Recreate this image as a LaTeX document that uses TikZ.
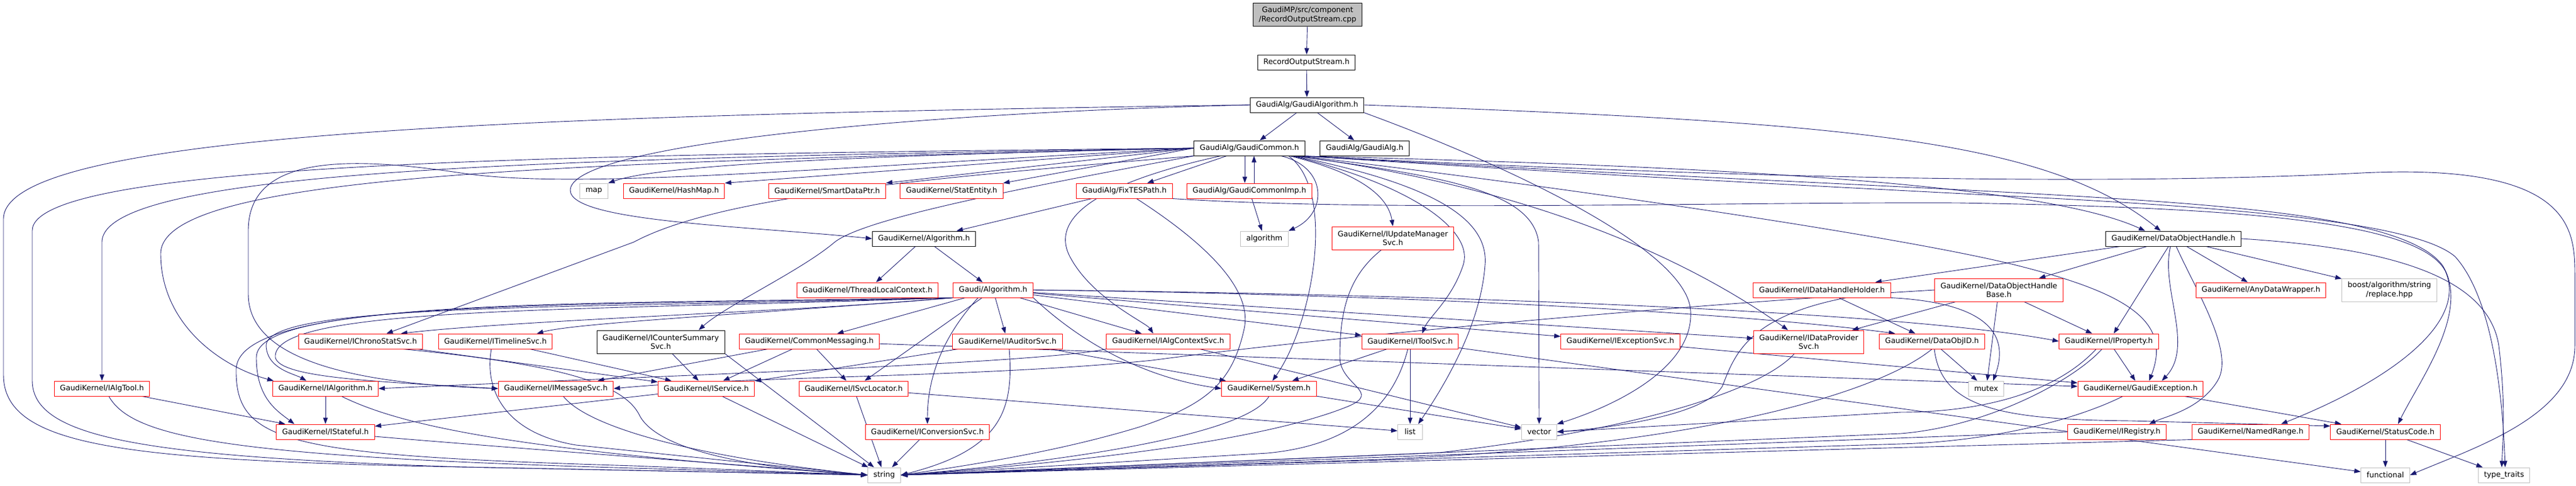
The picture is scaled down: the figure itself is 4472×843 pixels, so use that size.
\documentclass[tikz,border=0pt]{standalone}
\usepackage{fontspec}
\setmainfont{DejaVu Sans}
\usetikzlibrary{arrows.meta,backgrounds}
\definecolor{depblue}{HTML}{191970}
\definecolor{boxgrey}{HTML}{BFBFBF}
\definecolor{truncred}{HTML}{FF0000}
\tikzset{
  file/.style={draw=black, fill=white, line width=1pt, font=\fontsize{13}{15.5}\selectfont,
    minimum height=26pt, inner xsep=10pt, inner ysep=2pt, align=center},
  redfile/.style={file, draw=truncred},
  sysfile/.style={file, draw=boxgrey, minimum width=43pt},
  srcfile/.style={file, fill=boxgrey},
  twoline/.style={minimum height=40pt},
  dep/.style={draw=depblue, line width=0.9pt, -{Triangle[length=11pt,width=8pt]}}
}

\begin{document}
\begin{tikzpicture}[x=1pt,y=-1pt]
\useasboundingbox (0,0) rectangle (4472,843);

% top chain
\node[srcfile,twoline] (cpp) at (2270,26) {GaudiMP/src/component\\/RecordOutputStream.cpp};
\node[file] (ros) at (2268,108) {RecordOutputStream.h};
\node[file] (galgo) at (2269,182) {GaudiAlg/GaudiAlgorithm.h};
\node[file] (gcommon) at (2169,257) {GaudiAlg/GaudiCommon.h};
\node[file] (galg) at (2369,257) {GaudiAlg/GaudiAlg.h};

% row 1
\node[sysfile] (map) at (1031,331) {map};
\node[redfile] (hashmap) at (1170,331) {GaudiKernel/HashMap.h};
\node[redfile] (smartptr) at (1436,331) {GaudiKernel/SmartDataPtr.h};
\node[redfile] (statentity) at (1652,331) {GaudiKernel/StatEntity.h};
\node[redfile] (fixtes) at (1952,331) {GaudiAlg/FixTESPath.h};
\node[redfile] (gcimp) at (2169,331) {GaudiAlg/GaudiCommonImp.h};

% row 2
\node[redfile,twoline] (iupdmgr) at (2418,413) {GaudiKernel/IUpdateManager\\Svc.h};
\node[file] (gkalg) at (1604,414) {GaudiKernel/Algorithm.h};
\node[sysfile] (algorithm) at (2195,414) {algorithm};
\node[file] (dohandle) at (3773,414) {GaudiKernel/DataObjectHandle.h};

% row 3
\node[redfile] (tlctx) at (1506,503) {GaudiKernel/ThreadLocalContext.h};
\node[redfile] (gaudialg) at (1724,503) {Gaudi/Algorithm.h};
\node[redfile] (idhholder) at (3163,503) {GaudiKernel/IDataHandleHolder.h};
\node[redfile,twoline] (dohbase) at (3470,503) {GaudiKernel/DataObjectHandle\\Base.h};
\node[redfile] (anywrap) at (3925,503) {GaudiKernel/AnyDataWrapper.h};
\node[sysfile,twoline] (boostrep) at (4148,503) {boost/algorithm/string\\/replace.hpp};

% row 4
\node[redfile] (ichrono) at (626,592) {GaudiKernel/IChronoStatSvc.h};
\node[redfile] (itimeline) at (860,592) {GaudiKernel/ITimelineSvc.h};
\node[file,twoline] (icounter) at (1147,593) {GaudiKernel/ICounterSummary\\Svc.h};
\node[redfile] (commsg) at (1405,592) {GaudiKernel/CommonMessaging.h};
\node[redfile] (iauditor) at (1749,592) {GaudiKernel/IAuditorSvc.h};
\node[redfile] (ialgctx) at (2028,592) {GaudiKernel/IAlgContextSvc.h};
\node[redfile] (itoolsvc) at (2448,592) {GaudiKernel/IToolSvc.h};
\node[redfile] (iexcsvc) at (2813,592) {GaudiKernel/IExceptionSvc.h};
\node[redfile,twoline] (idpsvc) at (3140,593) {GaudiKernel/IDataProvider\\Svc.h};
\node[redfile] (dataobjid) at (3354,592) {GaudiKernel/DataObjID.h};
\node[redfile] (iproperty) at (3661,592) {GaudiKernel/IProperty.h};

% row 5
\node[redfile] (ialgtool) at (177,674) {GaudiKernel/IAlgTool.h};
\node[redfile] (ialgorithm) at (565,674) {GaudiKernel/IAlgorithm.h};
\node[redfile] (imsgsvc) at (965,674) {GaudiKernel/IMessageSvc.h};
\node[redfile] (iservice) at (1226,674) {GaudiKernel/IService.h};
\node[redfile] (isvcloc) at (1482,674) {GaudiKernel/ISvcLocator.h};
\node[redfile] (isystem) at (2203,674) {GaudiKernel/System.h};
\node[sysfile] (mutex) at (3448,674) {mutex};
\node[redfile] (gexc) at (3716,674) {GaudiKernel/GaudiException.h};

% row 6
\node[redfile] (istateful) at (565,749) {GaudiKernel/IStateful.h};
\node[redfile] (iconvsvc) at (1610,749) {GaudiKernel/IConversionSvc.h};
\node[sysfile] (list) at (2448,749) {list};
\node[sysfile] (vector) at (2672,749) {vector};
\node[redfile] (iregistry) at (3675,749) {GaudiKernel/IRegistry.h};
\node[redfile] (namedrange) at (3907,749) {GaudiKernel/NamedRange.h};
\node[redfile] (statuscode) at (4141,749) {GaudiKernel/StatusCode.h};

% bottom row
\node[sysfile] (string) at (1535,824) {string};
\node[sysfile] (functional) at (4141,824) {functional};
\node[sysfile] (typetraits) at (4347,824) {type\_traits};

\begin{scope}[on background layer]
\fill[white] (0,0) rectangle (4472,843);

% plain includes
\foreach \a/\b in {cpp/ros, ros/galgo, galgo/gcommon, galgo/galg, gcommon/fixtes, gcimp/algorithm,
  fixtes/gkalg, gkalg/tlctx, gkalg/gaudialg,
  gaudialg/commsg, gaudialg/iauditor, gaudialg/ialgctx, gaudialg/isvcloc, gaudialg/itoolsvc,
  gaudialg/iexcsvc, gaudialg/idpsvc,
  dohandle/idhholder, dohandle/dohbase, dohandle/anywrap, dohandle/boostrep, dohandle/iproperty,
  idhholder/dataobjid, dohbase/idpsvc, dohbase/iproperty, dohbase/mutex, dataobjid/mutex,
  iproperty/gexc, gexc/statuscode, statuscode/functional, statuscode/typetraits,
  ialgtool/istateful, ialgorithm/istateful, iservice/istateful,
  icounter/iservice, commsg/iservice, commsg/isvcloc, commsg/imsgsvc, iauditor/iservice, iauditor/isystem,
  ichrono/iservice, itimeline/iservice,
  itoolsvc/isystem, itoolsvc/list, isvcloc/list, isystem/vector, ialgctx/vector,
  iexcsvc/gexc, commsg/gexc, itoolsvc/functional,
  isvcloc/string, iconvsvc/string, iservice/string}
  \draw[dep] (\a) -- (\b);

% GaudiAlgorithm.h
\draw[dep] (galgo.west) .. controls (900,200) and (6,230) .. (6,380) -- (6,650) .. controls (6,770) and (200,795) .. (700,808) -- (string.west);
\draw[dep] (galgo.west) .. controls (1600,195) and (990,250) .. (990,330) .. controls (990,385) and (1300,392) .. (gkalg.west);
\draw[dep] (galgo.east) .. controls (3200,212) and (3550,240) .. ([xshift=-22pt]dohandle.north);
\draw[dep] (galgo.south east) .. controls (2600,280) and (2930,430) .. (2935,540) .. controls (2940,640) and (2800,705) .. (vector.north east);

% GaudiCommon.h, to the left
\draw[dep] (gcommon.west) .. controls (1500,270) and (1150,285) .. (map.north east);
\draw[dep] (gcommon.west) -- (hashmap.north east);
\draw[dep] (gcommon.west) -- (smartptr.north east);
\draw[dep] (gcommon.west) -- (statentity.north east);
\draw[dep] (gcommon.west) .. controls (1000,268) and (56,280) .. (56,400) -- (56,660) .. controls (56,760) and (250,792) .. (800,810) -- (string.west);
\draw[dep] (gcommon.west) .. controls (1000,275) and (177,290) .. (177,420) -- (ialgtool.north);
\draw[dep] (gcommon.west) .. controls (1000,282) and (279,300) .. (279,440) .. controls (279,560) and (380,635) .. ([xshift=-90pt]ialgorithm.north);
\draw[dep] (gcommon.west) .. controls (1400,292) and (1000,330) .. (800,300) .. controls (600,270) and (431,270) .. (431,400) -- (431,510) .. controls (431,620) and (600,665) .. (imsgsvc.west);
\draw[dep] (gcommon.south west) .. controls (1600,310) and (1250,340) .. (1100,420) -- ([xshift=45pt]ichrono.north);
\draw[dep] (gcommon.south west) .. controls (1750,330) and (1500,380) .. (1449,420) .. controls (1390,470) and (1260,530) .. ([xshift=66pt]icounter.north);
\draw[dep] ([xshift=-50pt]gcommon.south) .. controls (1850,330) and (1830,400) .. (1860,450) .. controls (1900,520) and (1990,560) .. ([xshift=-26pt]ialgctx.north);

% GaudiCommon.h, down and to the right
\draw[dep] ([xshift=-8pt]gcommon.south) -- ([xshift=-8pt]gcimp.north);
\draw[dep] ([xshift=8pt]gcimp.north) -- ([xshift=8pt]gcommon.south);
\draw[dep] ([xshift=70pt]gcommon.south) .. controls (2360,300) and (2410,340) .. (iupdmgr.north);
\draw[dep] ([xshift=55pt]gcommon.south) .. controls (2305,290) and (2305,370) .. (algorithm.north east);
\draw[dep] ([xshift=68pt]gcommon.south) .. controls (2320,330) and (2280,560) .. ([xshift=6pt]isystem.north);
\draw[dep] ([xshift=74pt]gcommon.south) .. controls (2450,320) and (2560,400) .. (2540,460) .. controls (2520,520) and (2480,550) .. ([xshift=21pt]itoolsvc.north);
\draw[dep] ([xshift=76pt]gcommon.south) .. controls (2490,320) and (2585,380) .. (2578,460) .. controls (2570,570) and (2500,680) .. ([xshift=14pt]list.north);
\draw[dep] ([xshift=78pt]gcommon.south) .. controls (2500,305) and (2660,330) .. (2671,420) -- (vector.north);
\draw[dep] ([xshift=80pt]gcommon.south) .. controls (2550,310) and (2860,400) .. ([xshift=-36pt]idpsvc.north);
\draw[dep] ([xshift=84pt]gcommon.south) .. controls (3000,288) and (3550,320) .. ([xshift=-49pt]dohandle.north);
\draw[dep] ([xshift=86pt]gcommon.south) .. controls (2700,322) and (3300,410) .. (3500,460) .. controls (3700,510) and (3770,560) .. ([xshift=15pt]gexc.north);
\draw[dep] ([xshift=88pt]gcommon.south) .. controls (2700,292) and (3500,330) .. (4100,300) .. controls (4470,282) and (4470,400) .. (4470,480) -- (4470,600) .. controls (4470,720) and (4300,775) .. (functional.east);
\draw[dep] ([xshift=90pt]gcommon.south) .. controls (2800,302) and (3300,322) .. (3600,340) .. controls (3900,358) and (4180,380) .. (4240,460) .. controls (4290,540) and (4200,660) .. ([xshift=22pt]statuscode.north);
\draw[dep] ([xshift=93pt]gcommon.south) .. controls (2800,306) and (3300,330) .. (3600,346) .. controls (3950,366) and (4200,392) .. (4262,445) .. controls (4330,520) and (4345,700) .. ([xshift=2pt]typetraits.north);

% FixTESPath.h
\draw[dep] (fixtes.south east) .. controls (2400,368) and (3000,350) .. (3400,352) .. controls (3900,360) and (4200,385) .. (4245,470) .. controls (4285,560) and (4150,660) .. ([xshift=53pt]namedrange.north);
\draw[dep] ([xshift=21pt]fixtes.south) .. controls (2090,420) and (2175,500) .. (2160,570) .. controls (2140,660) and (2100,700) .. (1980,740) .. controls (1850,780) and (1700,805) .. (string.east);

% Gaudi/Algorithm.h
\draw[dep] (gaudialg.south west) .. controls (1400,540) and (900,555) .. ([xshift=70pt]ichrono.north);
\draw[dep] (gaudialg.south west) .. controls (1300,545) and (1000,560) .. ([xshift=72pt]itimeline.north);
\draw[dep] (gaudialg.south west) .. controls (1000,540) and (470,530) .. (478,620) .. controls (485,655) and (650,662) .. (imsgsvc.west);
\draw[dep] (gaudialg.south west) .. controls (1000,535) and (460,525) .. (462,600) .. controls (464,640) and (510,648) .. ([xshift=-33pt]ialgorithm.north);
\draw[dep] (gaudialg.south west) .. controls (1000,530) and (445,520) .. (445,620) .. controls (445,690) and (480,712) .. ([xshift=-54pt]istateful.north);
\draw[dep] (gaudialg.south west) .. controls (1000,528) and (415,515) .. (410,640) .. controls (408,770) and (500,790) .. (1100,808) -- (string.west);
\draw[dep] (gaudialg.south east) .. controls (1840,560) and (1950,650) .. (isystem.west);
\draw[dep] ([xshift=-26pt]gaudialg.south) .. controls (1640,580) and (1610,650) .. (iconvsvc.north);
\draw[dep] (gaudialg.east) .. controls (2400,510) and (3000,540) .. ([xshift=-64pt]dataobjid.north);
\draw[dep] (gaudialg.east) .. controls (2500,510) and (3300,540) .. (iproperty.west);

% DataObjectHandle.h
\draw[dep] ([xshift=-5pt]dohandle.south) .. controls (3750,500) and (3810,600) .. ([xshift=37pt]gexc.north);
\draw[dep] ([xshift=5pt]dohandle.south) .. controls (3810,500) and (3880,610) .. (3850,660) .. controls (3820,710) and (3760,722) .. ([xshift=56pt]iregistry.north);
\draw[dep] (dohandle.east) .. controls (4150,430) and (4320,480) .. (4338,600) .. controls (4350,700) and (4345,760) .. ([xshift=-4pt]typetraits.north);

% handles, ids and properties
\draw[dep] ([xshift=42pt]idhholder.south) .. controls (3030,550) and (3010,620) .. (2990,670) .. controls (2960,720) and (2800,742) .. (vector.east);
\draw[dep] (idhholder.south east) .. controls (3450,525) and (3490,580) .. ([xshift=12pt]mutex.north);
\draw[dep] ([xshift=4pt]dataobjid.south) .. controls (3370,710) and (3480,728) .. (3700,730) -- ([yshift=10pt]statuscode.west);
\draw[dep] (dataobjid.south) .. controls (3250,690) and (2900,785) .. (2300,800) -- (string.east);
\draw[dep] ([xshift=-25pt]idpsvc.south) .. controls (3060,675) and (2850,745) .. (2500,785) -- (string.east);
\draw[dep] ([xshift=-22pt]iproperty.south) .. controls (3560,690) and (3420,715) .. (3300,715) -- (vector.east);
\draw[dep] ([xshift=-12pt]iproperty.south) .. controls (3600,660) and (3450,740) .. (3300,752) -- (string.east);
\draw[dep] ([xshift=-31pt]gexc.south) .. controls (3600,730) and (3450,766) .. (3300,770) -- (string.east);
\draw[dep] (iregistry.west) -- (string.east);
\draw[dep] (namedrange.south west) -- (string.east);
\draw[dep] (dohbase.west) .. controls (2900,530) and (2300,585) .. (2000,625) .. controls (1700,655) and (1300,652) .. (imsgsvc.east);

% services down to string
\draw[dep] ([xshift=-4pt]itoolsvc.south) .. controls (2420,700) and (2350,772) .. (2200,786) -- (string.east);
\draw[dep] (isystem.south) .. controls (2160,760) and (1800,805) .. (string.east);
\draw[dep] ([xshift=-20pt]iupdmgr.south) .. controls (2340,480) and (2326,540) .. (2326,620) .. controls (2326,668) and (2400,680) .. (2340,705) .. controls (2200,762) and (1900,800) .. (string.east);
\draw[dep] ([xshift=3pt]iauditor.south) .. controls (1760,710) and (1740,780) .. (string.east);
\draw[dep] (icounter.south east) -- (string);
\draw[dep] ([xshift=12pt]ialgtool.south) .. controls (230,760) and (400,792) .. (1100,812) -- (string.west);
\draw[dep] ([yshift=-8pt]istateful.east) .. controls (800,770) and (1200,800) .. (string.west);
\draw[dep] ([xshift=28pt]ialgorithm.south) .. controls (700,740) and (900,782) .. (string.west);
\draw[dep] ([xshift=13pt]imsgsvc.south) .. controls (1020,740) and (1200,792) .. (string.west);
\draw[dep] ([xshift=-7pt]itimeline.south) .. controls (840,680) and (880,752) .. (1000,772) -- (string.west);
\draw[dep] ([xshift=74pt]ichrono.south) .. controls (950,630) and (1080,660) .. (1110,720) .. controls (1140,780) and (1300,812) .. (string.west);
\draw[dep] (ialgctx.south west) .. controls (1800,630) and (1200,650) .. (ialgorithm.east);
\end{scope}
\end{tikzpicture}
\end{document}
